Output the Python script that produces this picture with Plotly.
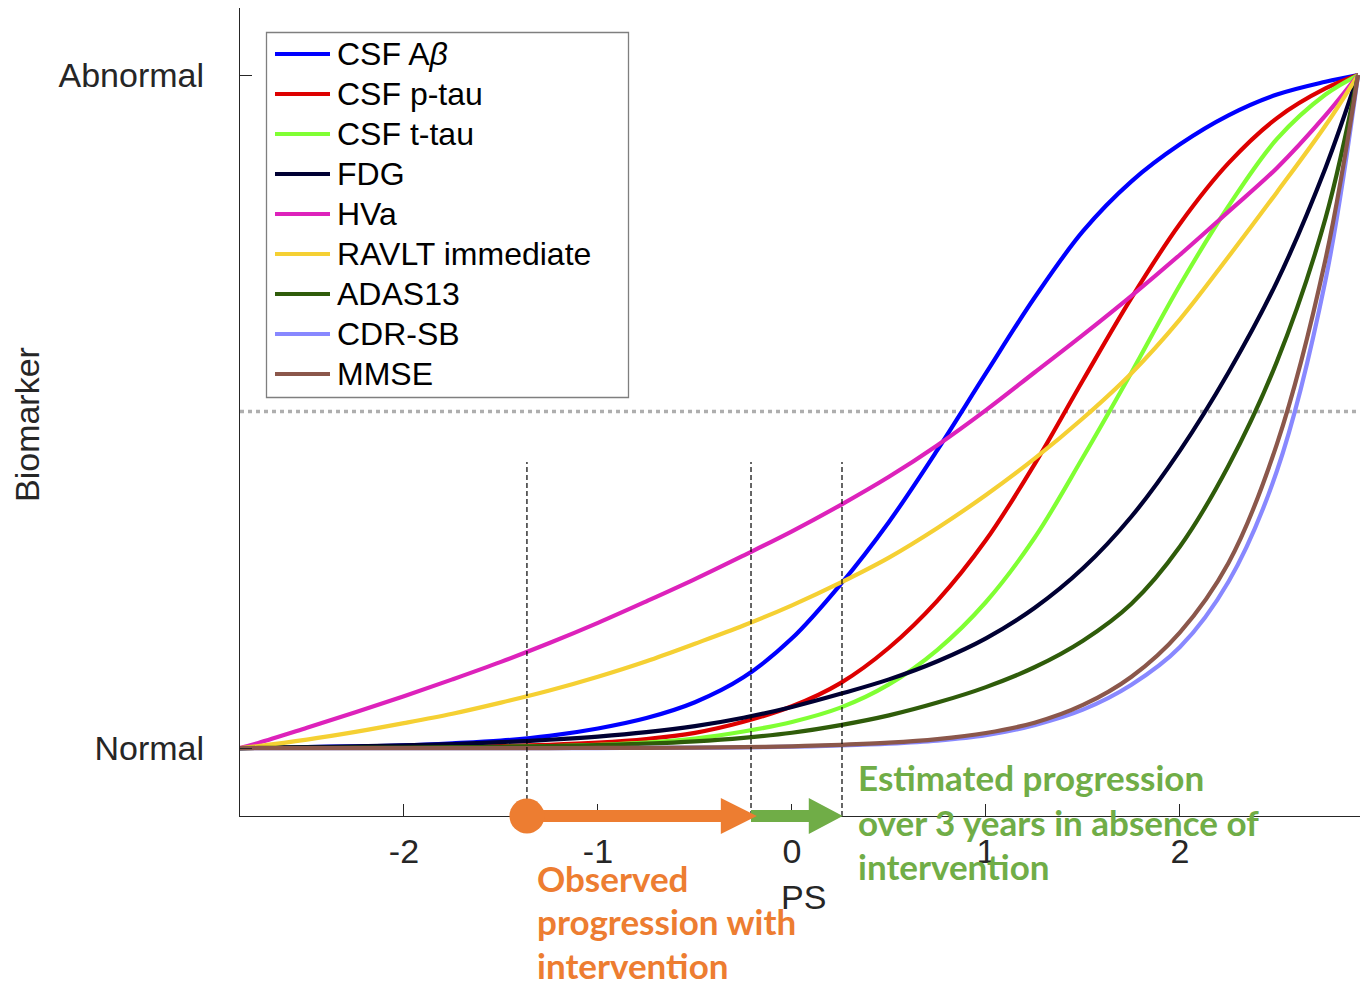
import plotly.graph_objects as go

# Disease progression score (PS) sample points
ps = [-2.845, -2.75, -2.5, -2.25, -2.0, -1.75, -1.5, -1.25, -1.0, -0.75, -0.5, -0.25,
      0.0, 0.25, 0.5, 0.75, 1.0, 1.25, 1.5, 1.75, 2.0, 2.25, 2.5, 2.75, 2.918]

# Normalised biomarker trajectories (0 = normal, 1 = abnormal)
csf_abeta = [0, 0.0005, 0.0015, 0.0025, 0.004, 0.007, 0.011, 0.018, 0.029, 0.0445, 0.068, 0.105,
             0.163, 0.243, 0.336, 0.443, 0.557, 0.669, 0.768, 0.842, 0.897, 0.940, 0.971, 0.990, 1]
csf_ptau = [0, 0.0001, 0.0003, 0.0006, 0.001, 0.0016, 0.0028, 0.0047, 0.0079, 0.0134, 0.0226, 0.039,
            0.062, 0.0965, 0.149, 0.219, 0.309, 0.4215, 0.5465, 0.669, 0.779, 0.869, 0.936, 0.980, 1]
csf_ttau = [0, 0.0001, 0.0002, 0.0003, 0.0005, 0.0009, 0.0015, 0.0027, 0.0047, 0.0081, 0.0141, 0.0245,
            0.0387, 0.060, 0.0945, 0.146, 0.217, 0.312, 0.432, 0.558, 0.688, 0.805, 0.905, 0.971, 1]
fdg = [0, 0.0004, 0.0013, 0.0025, 0.004, 0.006, 0.0087, 0.0123, 0.017, 0.0235, 0.0325, 0.045,
       0.061, 0.0805, 0.102, 0.129, 0.163, 0.208, 0.267, 0.344, 0.442, 0.558, 0.693, 0.862, 1]
hva = [0, 0.0075, 0.030, 0.053, 0.077, 0.102, 0.128, 0.156, 0.186, 0.218, 0.251, 0.286,
       0.322, 0.361, 0.403, 0.450, 0.502, 0.558, 0.614, 0.672, 0.733, 0.797, 0.862, 0.940, 1]
ravlt = [0, 0.003, 0.0125, 0.024, 0.037, 0.051, 0.0675, 0.0855, 0.106, 0.129, 0.155, 0.182,
         0.212, 0.2457, 0.283, 0.327, 0.376, 0.430, 0.490, 0.557, 0.637, 0.730, 0.826, 0.925, 1]
adas13 = [0, 0.0001, 0.0003, 0.0005, 0.0008, 0.0012, 0.0019, 0.0029, 0.0044, 0.0066, 0.0100, 0.0152,
          0.0227, 0.034, 0.0485, 0.0675, 0.0905, 0.120, 0.1595, 0.2145, 0.2995, 0.4195, 0.5745, 0.787, 1]
cdrsb = [0, 0, 0, 0, 0, 0, 0, 0, 0, 0.0002, 0.0005, 0.001,
         0.002, 0.0038, 0.0065, 0.011, 0.019, 0.034, 0.057, 0.094, 0.150, 0.247, 0.412, 0.695, 1]
mmse = [0, 0, 0, 0, 0, 0, 0, 0, 0.0001, 0.0003, 0.0007, 0.0014,
        0.0026, 0.0047, 0.0079, 0.0133, 0.0224, 0.0376, 0.064, 0.106, 0.172, 0.275, 0.452, 0.726, 1]

series_names = ["CSF A<i>β</i>", "CSF p-tau", "CSF t-tau", "FDG", "HVa",
                "RAVLT immediate", "ADAS13", "CDR-SB", "MMSE"]
series_values = [csf_abeta, csf_ptau, csf_ttau, fdg, hva, ravlt, adas13, cdrsb, mmse]
series_colors = ["#0000FF", "#DD0000", "#80FF33", "#000033", "#DD22BB",
                 "#F5D033", "#2F5C0A", "#8888FF", "#8B574B"]

# Observation time points on the PS axis
ps_marks = [-1.366, -0.211, 0.258]
ytick_vals = [0, 1]
ytick_text = ["Normal", "Abnormal"]
xtick_vals = [-2, -1, 0, 1, 2]
xtick_text = ["-2", "-1", "0", "1", "2"]

W, H = 1360, 981
ML, MR, MT, MB = 240, 0, 8, 165
PW, PH = W - ML - MR, H - MT - MB
X_RANGE = [-2.845, 2.928]
Y_RANGE = [-0.1010, 1.0996]


def paper_x(px):
    return (px - ML) / PW


def paper_y(py):
    return (H - MB - py) / PH


x_per_px = (X_RANGE[1] - X_RANGE[0]) / PW

fig = go.Figure()
for name, vals, col in zip(series_names, series_values, series_colors):
    fig.add_trace(go.Scatter(x=ps, y=vals, mode="lines", name=name,
                             line=dict(color=col, width=4.2, shape="spline", smoothing=1.0),
                             hoverinfo="skip"))

shapes = []
# threshold between normal and abnormal
shapes.append(dict(type="line", xref="x", yref="y", x0=X_RANGE[0], x1=X_RANGE[1],
                   y0=0.5, y1=0.5, layer="below",
                   line=dict(color="#AFAFAF", width=3.5, dash="4px,4px")))
# observation markers
for m in ps_marks:
    shapes.append(dict(type="line", xref="x", yref="y", x0=m, x1=m,
                       y0=Y_RANGE[0], y1=0.425, layer="above",
                       line=dict(color="black", width=1.2, dash="5px,3px")))


def arrow_path(x_start, x_tip, head_len_px, shaft_px, head_px):
    hb = x_tip - head_len_px * x_per_px
    hs = shaft_px / 2 / PH
    hh = head_px / 2 / PH
    return (f"M{x_start},{-hs} L{hb},{-hs} L{hb},{-hh} L{x_tip},0 "
            f"L{hb},{hh} L{hb},{hs} L{x_start},{hs} Z")


orange = "#ED7D31"
green = "#70AD47"
shapes.append(dict(type="path", xref="x", yref="paper", layer="above",
                   path=arrow_path(ps_marks[1], ps_marks[2] + 0.004, 34, 12, 36),
                   fillcolor=green, line=dict(width=0)))
shapes.append(dict(type="path", xref="x", yref="paper", layer="above",
                   path=arrow_path(ps_marks[0], ps_marks[1] + 0.03, 36, 12, 36),
                   fillcolor=orange, line=dict(width=0)))
r_px = 17.5
shapes.append(dict(type="circle", xref="x", yref="paper", layer="above",
                   x0=ps_marks[0] - r_px * x_per_px, x1=ps_marks[0] + r_px * x_per_px,
                   y0=-r_px / PH, y1=r_px / PH, fillcolor=orange, line=dict(width=0)))

# legend box
shapes.append(dict(type="rect", xref="paper", yref="paper",
                   x0=paper_x(266.5), x1=paper_x(628.5), y0=paper_y(397.5), y1=paper_y(32.5),
                   fillcolor="white", line=dict(color="#7F7F7F", width=1.3), layer="above"))

annotations = []
for i, (name, col) in enumerate(zip(series_names, series_colors)):
    row = 54 + 40 * i
    shapes.append(dict(type="line", xref="paper", yref="paper", layer="above",
                       x0=paper_x(275), x1=paper_x(330), y0=paper_y(row), y1=paper_y(row),
                       line=dict(color=col, width=4)))
    annotations.append(dict(xref="paper", yref="paper", x=paper_x(335), y=paper_y(row),
                            xanchor="left", yanchor="middle", text=name, showarrow=False,
                            font=dict(family="Liberation Sans, Arial", size=32, color="black")))

label_font = dict(family="Liberation Sans, Arial", size=34, color="#262626")
annotations.append(dict(xref="paper", yref="paper", x=paper_x(27), y=paper_y(425),
                        text="Biomarker", textangle=-90, showarrow=False,
                        xanchor="center", yanchor="middle", font=label_font))
annotations.append(dict(xref="paper", yref="paper", x=paper_x(803), y=paper_y(897),
                        text="PS", showarrow=False, xanchor="center", yanchor="middle",
                        font=label_font))

note_font_g = dict(family="Lato", size=35, color=green)
note_font_o = dict(family="Lato", size=35, color=orange)
for txt, py in zip(["Estimated progression", "over 3 years in absence of", "intervention"],
                   [777, 822, 866]):
    annotations.append(dict(xref="paper", yref="paper", x=paper_x(856), y=paper_y(py),
                            text=f"<b>{txt}</b>", showarrow=False, xanchor="left",
                            yanchor="middle", font=note_font_g))
for txt, py in zip(["Observed", "progression with", "intervention"], [878, 921, 965]):
    annotations.append(dict(xref="paper", yref="paper", x=paper_x(535), y=paper_y(py),
                            text=f"<b>{txt}</b>", showarrow=False, xanchor="left",
                            yanchor="middle", font=note_font_o))

fig.update_layout(
    width=W, height=H, margin=dict(l=ML, r=MR, t=MT, b=MB),
    plot_bgcolor="white", paper_bgcolor="white", showlegend=False,
    shapes=shapes, annotations=annotations,
    xaxis=dict(range=X_RANGE, showline=True, linecolor="#262626", linewidth=1.3,
               ticks="inside", ticklen=12, tickwidth=1.3, tickcolor="#262626",
               tickvals=xtick_vals, ticktext=xtick_text, tickfont=label_font,
               showgrid=False, zeroline=False, ticklabelstandoff=5),
    yaxis=dict(range=Y_RANGE, showline=True, linecolor="#262626", linewidth=1.3,
               ticks="inside", ticklen=12, tickwidth=1.3, tickcolor="#262626",
               tickvals=ytick_vals, ticktext=ytick_text, tickfont=label_font,
               showgrid=False, zeroline=False, ticklabelstandoff=28),
)

fig.write_html("out.html")
